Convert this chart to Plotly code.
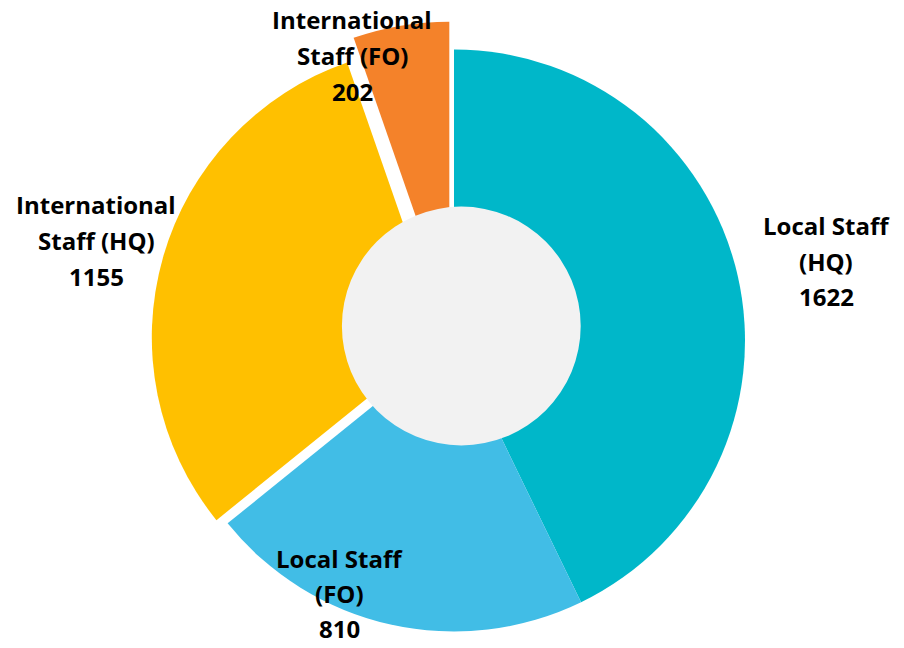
import math
import plotly.graph_objects as go

# ---- data ----
categories = ["Local Staff (HQ)", "Local Staff (FO)", "International Staff (HQ)", "International Staff (FO)"]
values = [1622, 810, 1155, 202]
label_lines = [["Local Staff", "(HQ)"], ["Local Staff", "(FO)"],
               ["International", "Staff (HQ)"], ["International", "Staff (FO)"]]

# ---- style ----
colors = ["#00B7C9", "#41BDE6", "#FFC000", "#F4822A"]
explode = [0.0, 0.0, 0.04, 0.097]          # fraction of radius each slice is pulled out
W, H = 904, 648
CX, CY, R = 454.0, 340.5, 291.0             # pie centre / radius in pixels
HOLE_CX, HOLE_CY, HOLE_R = 461.3, 326.0, 119.4
label_base = [(826, 233), (339, 566), (96, 212), (352, 27)]  # first-line baseline (px)
LINE_GAPS = [36, 35, 36, 36]
FONT = dict(family="Open Sans", size=24, color="black", weight="bold")

total = sum(values)
fig = go.Figure()
cum = 0
for i, v in enumerate(values):
    mid = (cum + v / 2) / total * 2 * math.pi
    cum += v
    off = explode[i] * R
    cx = CX + off * math.sin(mid)
    cy = CY - off * math.cos(mid)
    fig.add_trace(go.Pie(
        labels=categories, values=values, sort=False, direction="clockwise", rotation=0,
        marker=dict(colors=[colors[j] if j == i else "rgba(0,0,0,0)" for j in range(len(values))],
                    line=dict(width=0)),
        textinfo="none", hoverinfo="label+value",
        domain=dict(x=[(cx - R) / W, (cx + R) / W], y=[1 - (cy + R) / H, 1 - (cy - R) / H]),
        showlegend=False,
    ))

shapes = [dict(type="circle", xref="paper", yref="paper",
               x0=(HOLE_CX - HOLE_R) / W, x1=(HOLE_CX + HOLE_R) / W,
               y0=1 - (HOLE_CY + HOLE_R) / H, y1=1 - (HOLE_CY - HOLE_R) / H,
               fillcolor="#F2F2F2", line=dict(width=0), layer="above")]

annotations = []
for i in range(len(values)):
    lines = label_lines[i] + [str(values[i])]
    bx, by = label_base[i]
    for k, line in enumerate(lines):
        ypx = by + k * LINE_GAPS[i] - 8
        annotations.append(dict(text=line, x=bx / W, y=1 - ypx / H, xref="paper", yref="paper",
                                xanchor="center", yanchor="middle", showarrow=False,
                                borderpad=0, font=FONT))

fig.update_layout(width=W, height=H, margin=dict(l=0, r=0, t=0, b=0),
                  paper_bgcolor="white", plot_bgcolor="white",
                  shapes=shapes, annotations=annotations)
fig.write_html("out.html", config={"displayModeBar": False},
               post_script="document.body.style.margin='0';")
